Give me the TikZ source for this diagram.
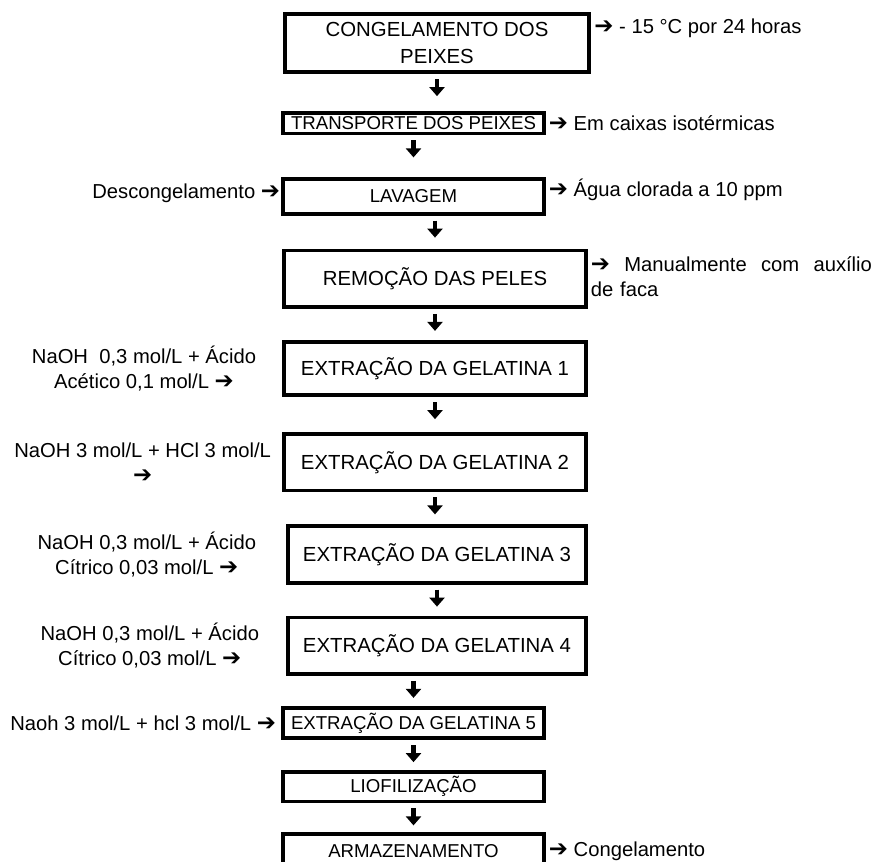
\documentclass[tikz,border=0pt]{standalone}
\usepackage{fontspec}
\setmainfont{Liberation Sans}
\newfontfamily\arrowfont{DejaVu Sans}
\usepackage{tikz}
\usetikzlibrary{positioning,arrows.meta}
\newcommand{\setaD}{{\arrowfont\fontsize{13}{13}\selectfont ➔}}
\tikzset{
  etapa/.style={draw, line width=0.075cm, inner sep=1pt, align=center},
  larga/.style={minimum width=6.03cm, minimum height=1.13cm, font=\fontsize{11.6}{15.9}\selectfont},
  estreita/.style={minimum width=5.21cm, font=\fontsize{10.6}{14}\selectfont},
  nota/.style={inner sep=0pt, align=center},
  seta/.style={line width=0.09cm, -{Triangle[width=0.3cm,length=0.18cm]},
    shorten <=0.1cm, shorten >=#1},
}

\begin{document}
\begin{tikzpicture}[font=\fontsize{11.5}{14.2}\selectfont]
		\useasboundingbox (0,0) rectangle (17.7,-17.22);
		% Etapas
		\node[etapa, larga, minimum width=6.09cm, minimum height=1.17cm] (Cong) at (8.74,-0.86) {CONGELAMENTO DOS\\PEIXES} ;
		\node[etapa, estreita, minimum height=0.41cm, below=0.74cm of Cong, xshift=-0.47cm] (Trans) {TRANSPORTE DOS PEIXES} ;
		\node[etapa, estreita, minimum height=0.69cm, below=0.84cm of Trans] (Lav) {LAVAGEM} ;
		\node[etapa, larga, below=0.66cm of Lav, xshift=0.43cm] (Rem) {REMOÇÃO DAS PELES} ;
		%%%%% Extracoes
		\node[etapa, larga, minimum height=1.07cm, below=0.62cm of Rem] (Ext1) {EXTRAÇÃO DA GELATINA 1} ;
		\node[etapa, larga, below=0.70cm of Ext1] (Ext2) {EXTRAÇÃO DA GELATINA 2} ;
		\node[etapa, larga, minimum width=5.95cm, below=0.64cm of Ext2, xshift=0.04cm] (Ext3) {EXTRAÇÃO DA GELATINA 3} ;
		\node[etapa, larga, minimum width=5.95cm, below=0.62cm of Ext3] (Ext4) {EXTRAÇÃO DA GELATINA 4} ;
		\node[etapa, estreita, minimum height=0.61cm, below=0.60cm of Ext4, xshift=-0.47cm] (Ext5) {EXTRAÇÃO DA GELATINA 5} ;
		%%%%% Final
		\node[etapa, estreita, minimum height=0.59cm, below=0.60cm of Ext5] (Lio) {LIOFILIZAÇÃO} ;
		\node[etapa, estreita, minimum height=0.67cm, below=0.58cm of Lio] (Arm) {ARMAZENAMENTO} ;
		% Entradas (esquerda)
		\node[nota, left=0.02cm of Lav, yshift=0.06cm] (Desc) {Descongelamento \setaD} ;
		\node[nota, left=0.52cm of Ext1] (Acet) {NaOH\ \ 0,3 mol/L + Ácido\\Acético 0,1 mol/L \setaD} ;
		\node[nota, left=0.22cm of Ext2] (HCl) {NaOH 3 mol/L + HCl 3 mol/L\\\setaD} ;
		\node[nota, left=0.60cm of Ext3] (Citr1) {NaOH 0,3 mol/L + Ácido\\Cítrico 0,03 mol/L \setaD} ;
		\node[nota, left=0.54cm of Ext4] (Citr2) {NaOH 0,3 mol/L + Ácido\\Cítrico 0,03 mol/L \setaD} ;
		\node[nota, left=0.10cm of Ext5] (hcl) {Naoh 3 mol/L + hcl 3 mol/L \setaD} ;
		% Condicoes (direita)
		\node[nota, right=0.06cm of Cong, yshift=0.3cm] (Temp) {\setaD\ - 15 °C por 24 horas} ;
		\node[nota, right=0.06cm of Trans] (Caixas) {\setaD\ Em caixas isotérmicas} ;
		\node[nota, right=0.06cm of Lav, yshift=0.14cm] (Agua) {\setaD\ Água clorada a 10 ppm} ;
		\node[nota, right=0.06cm of Rem, yshift=0.05cm, text width=5.62cm, align=left] (Faca) {\setaD\hfill Manualmente\hfill com\hfill auxílio\\de faca} ;
		\node[nota, right=0.06cm of Arm] (Cong2) {\setaD\ Congelamento} ;
		% Setas
		\draw[seta=0.30cm] (Cong.south) -- (Cong.south |- Trans.north) ;
		\draw[seta=0.40cm] (Trans) -- (Lav) ;
		\draw[seta=0.22cm] (Lav.south -| Rem.north) -- (Rem.north) ;
		\draw[seta=0.18cm] (Rem) -- (Ext1) ;
		\draw[seta=0.26cm] (Ext1) -- (Ext2) ;
		\draw[seta=0.20cm] (Ext2.south) -- (Ext2.south |- Ext3.north) ;
		\draw[seta=0.18cm] (Ext3) -- (Ext4) ;
		\draw[seta=0.16cm] (Ext5.north |- Ext4.south) -- (Ext5.north) ;
		\draw[seta=0.16cm] (Ext5) -- (Lio) ;
		\draw[seta=0.14cm] (Lio) -- (Arm) ;
	\end{tikzpicture}
\end{document}
